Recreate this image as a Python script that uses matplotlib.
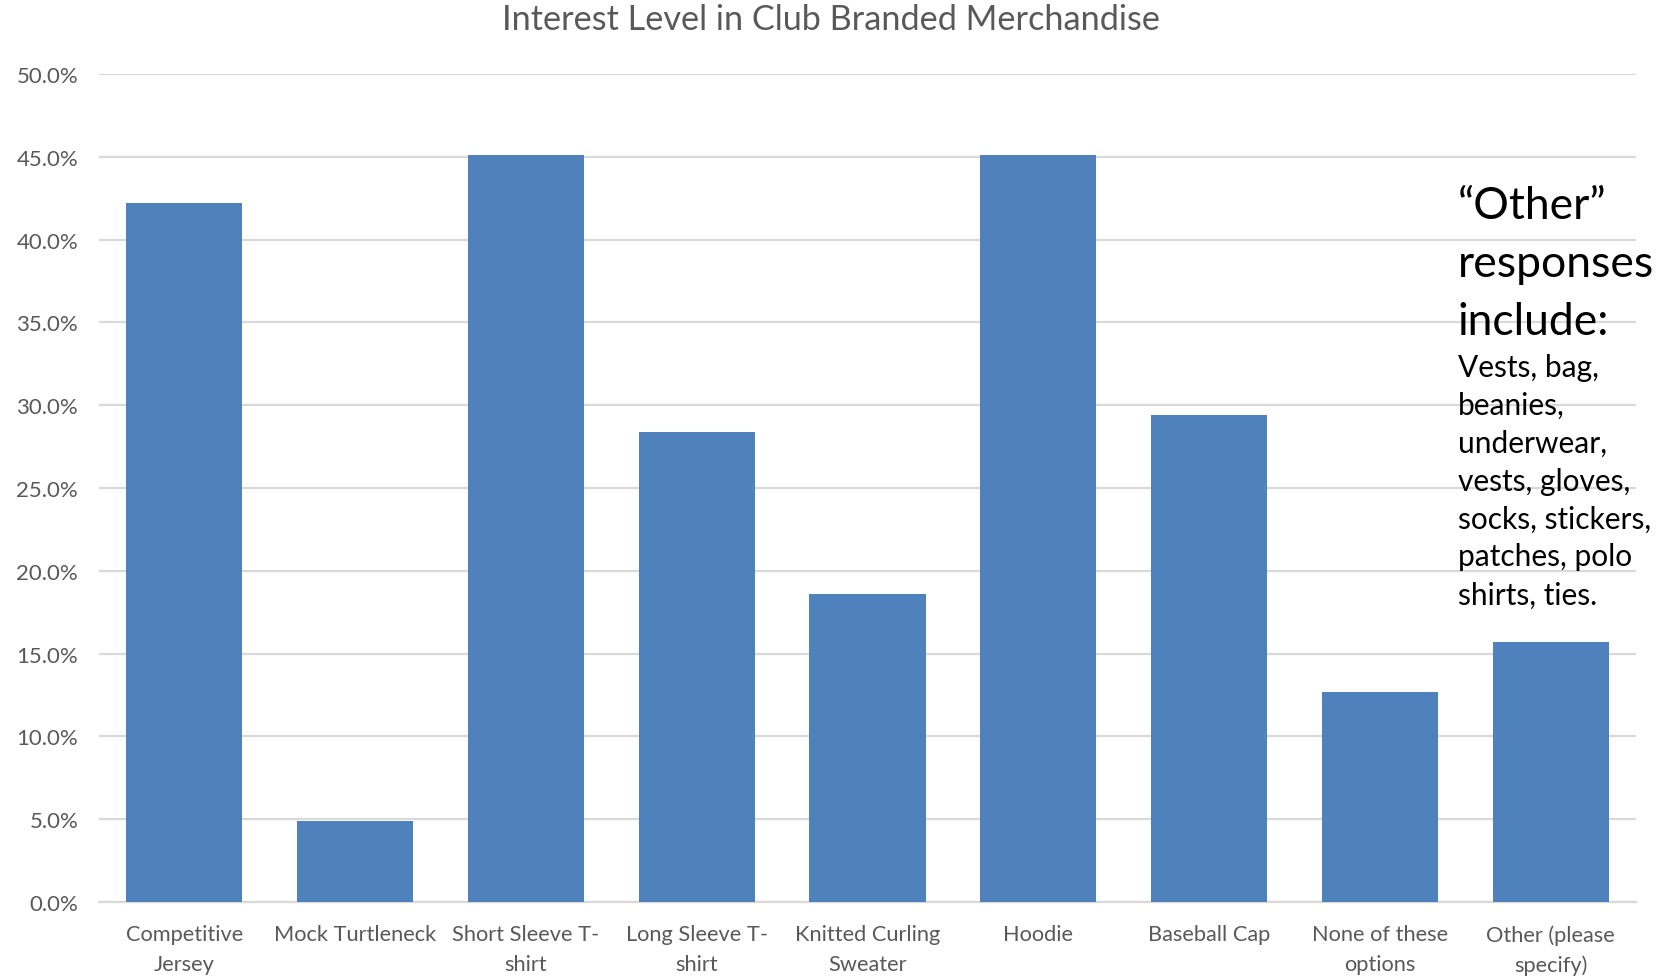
import matplotlib.pyplot as plt
from matplotlib.ticker import PercentFormatter

categories = ["Competitive\nJersey", "Mock Turtleneck", "Short Sleeve T-\nshirt",
              "Long Sleeve T-\nshirt", "Knitted Curling\nSweater", "Hoodie",
              "Baseball Cap", "None of these\noptions", "Other (please\nspecify)"]
interest = [42.2, 4.9, 45.1, 28.4, 18.6, 45.1, 29.4, 12.7, 15.7]
yticks = [0, 5, 10, 15, 20, 25, 30, 35, 40, 45, 50]

other_head = "\u201cOther\u201d\nresponses\ninclude:"
other_list = "Vests, bag,\nbeanies,\nunderwear,\nvests, gloves,\nsocks, stickers,\npatches, polo\nshirts, ties."

plt.rcParams['font.family'] = ['Lato', 'DejaVu Sans']
grey = "#595959"

fig = plt.figure(figsize=(16.67, 9.78), dpi=100)
ax = fig.add_axes([0.0594, 0.0767, 0.922, 0.8466])

ax.bar(range(len(categories)), interest, width=0.68, color="#4F81BD", zorder=3)

ax.set_ylim(0, 50)
ax.set_xlim(-0.5, len(categories) - 0.5)
ax.set_yticks(yticks)
ax.yaxis.set_major_formatter(PercentFormatter(decimals=1))
ax.set_xticks(range(len(categories)))
ax.set_xticklabels(categories, fontsize=15.7, color=grey, linespacing=1.6)
ax.tick_params(axis='y', labelsize=16, colors=grey, length=0, pad=15)
ax.tick_params(axis='x', length=0, pad=16)
ax.grid(axis='y', color="#D9D9D9", linewidth=1.6, zorder=0)
for s in ["top", "right", "left"]:
    ax.spines[s].set_visible(False)
ax.spines["bottom"].set_color("#D9D9D9")
ax.spines["bottom"].set_linewidth(1.6)

fig.text(0.4985, 0.996, "Interest Level in Club Branded Merchandise",
         ha="center", va="top", fontsize=24.7, color=grey)

fig.text(0.8746, 0.81, other_head, ha="left", va="top", fontsize=32,
         color="black", linespacing=1.52)
fig.text(0.8746, 0.638, other_list, ha="left", va="top", fontsize=21.5,
         color="black", linespacing=1.43)

fig.savefig("out.png", dpi=100)
